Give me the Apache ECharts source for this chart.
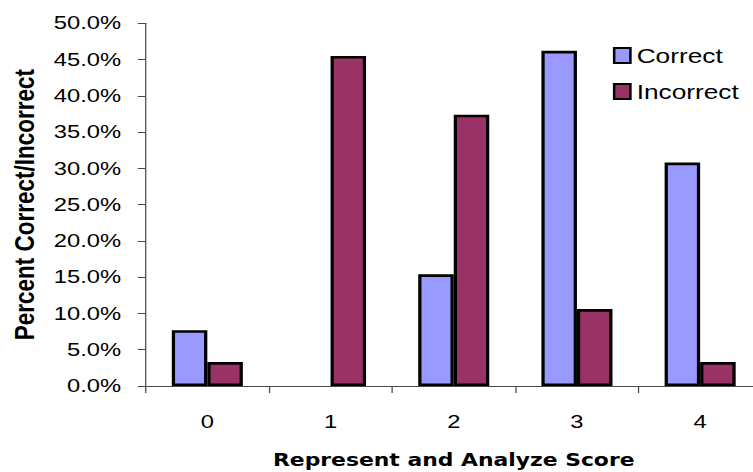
<!DOCTYPE html>
<html>
<head>
<meta charset="utf-8">
<script src="https://cdn.jsdelivr.net/npm/echarts@6/dist/echarts.min.js"></script>
<style>
  html, body { margin: 0; padding: 0; background: #fff; overflow: hidden; }
  #wrap { width: 753px; height: 472px; overflow: hidden; }
  /* chart is laid out narrower and widened horizontally for the wide lettering */
  #chart { width: 602px; height: 472px; transform: scaleX(1.25083); transform-origin: 0 0; }
</style>
</head>
<body>
<div id="wrap"><div id="chart"></div></div>
<script>
// Score categories on the x axis
const scores = ['0', '1', '2', '3', '4'];
// Percent of responses at each score
const correctPct = [7.7, 0, 15.4, 46.2, 30.8];
const incorrectPct = [3.3, 45.5, 37.4, 10.6, 3.3];
// Series names
const seriesNames = ['Correct', 'Incorrect'];
// Value axis range (percent)
const yMin = 0, yMax = 50, yStep = 5;

const chart = echarts.init(document.getElementById('chart'), null, { renderer: 'svg' });

const axisColor = '#4a4a4a';
const labelFont = 'Liberation Sans, Arial, sans-serif';

// zero-height bars get no outline so nothing is drawn on the baseline
const toBarData = arr => arr.map(v => (v === 0 ? { value: v, itemStyle: { borderWidth: 0 } } : v));

chart.setOption({
  animation: false,
  backgroundColor: '#ffffff',
  grid: { left: 116.5, right: -7, top: 23.3, bottom: 86, containLabel: false, outerBoundsMode: 'none' },
  legend: {
    data: seriesNames,
    orient: 'vertical',
    left: 485,
    top: 40,
    icon: 'rect',
    itemWidth: 13,
    itemHeight: 15,
    itemGap: 15,
    itemStyle: { borderColor: '#000', borderWidth: 2 },
    textStyle: { fontFamily: labelFont, fontSize: 21, color: '#000' }
  },
  xAxis: {
    type: 'category',
    data: scores,
    name: 'Represent and Analyze Score',
    nameLocation: 'middle',
    nameGap: 65,
    nameTextStyle: { fontFamily: 'DejaVu Sans, sans-serif', fontWeight: 'bold', fontSize: 17.5, color: '#000' },
    axisLine: { lineStyle: { color: axisColor, width: 1 } },
    axisTick: { show: true, length: 7, alignWithLabel: false, lineStyle: { color: axisColor } },
    axisLabel: { margin: 26, fontFamily: labelFont, fontSize: 19, color: '#000' },
    splitLine: { show: false }
  },
  yAxis: {
    type: 'value',
    min: yMin,
    max: yMax,
    interval: yStep,
    name: 'Percent Correct/Incorrect',
    nameLocation: 'middle',
    nameGap: 86,
    nameRotate: 90,
    nameTextStyle: { fontFamily: labelFont, fontWeight: 'bold', fontSize: 22.5, color: '#000' },
    axisLine: { show: true, lineStyle: { color: axisColor, width: 1 } },
    axisTick: { show: true, length: 6.4, lineStyle: { color: axisColor } },
    axisLabel: {
      margin: 19.6,
      fontFamily: labelFont,
      fontSize: 19,
      color: '#000',
      formatter: v => v.toFixed(1) + '%'
    },
    splitLine: { show: false }
  },
  series: [
    {
      name: seriesNames[0],
      type: 'bar',
      data: toBarData(correctPct),
      barWidth: 28.4,
      barGap: '0%',
      itemStyle: { color: '#9999FF', borderColor: '#000', borderWidth: 2.6 }
    },
    {
      name: seriesNames[1],
      type: 'bar',
      data: toBarData(incorrectPct),
      barWidth: 28.4,
      barGap: '0%',
      itemStyle: { color: '#993366', borderColor: '#000', borderWidth: 2.6 }
    }
  ]
});
</script>
</body>
</html>
